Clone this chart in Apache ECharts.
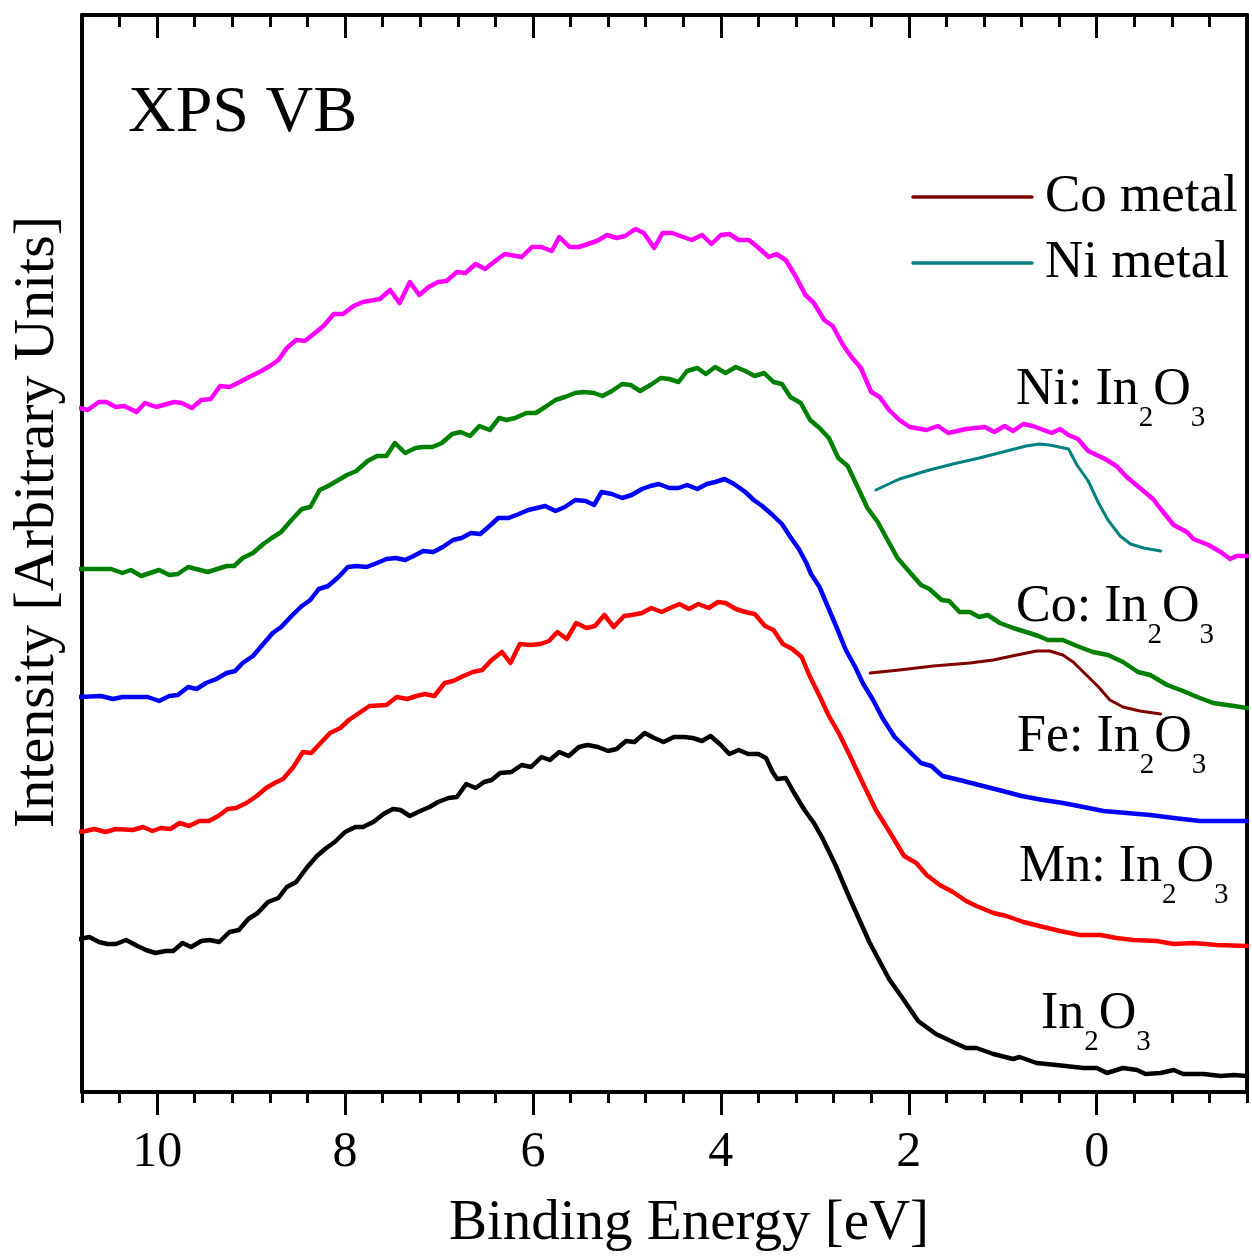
<!DOCTYPE html>
<html>
<head>
<meta charset="utf-8">
<title>XPS VB</title>
<script src="https://cdn.jsdelivr.net/npm/echarts@6/dist/echarts.min.js"></script>
<style>
  html, body { margin: 0; padding: 0; background: #fff; }
  #chart { width: 1252px; height: 1259px; }
</style>
</head>
<body>
<div id="chart"></div>
<script>
// Valence-band XPS spectra, [binding energy (eV), intensity (arb. units, offset)]
const niDoped = [[10.83,684],[10.74,682],[10.62,690],[10.54,690],[10.44,685],[10.35,686],[10.22,680],[10.13,689],[10.01,685],[9.82,690],[9.74,689],[9.63,684],[9.53,692],[9.43,693],[9.33,706],[9.23,705],[9.12,710],[9.02,715],[8.89,721],[8.80,726],[8.71,732],[8.62,744],[8.52,752],[8.43,751],[8.32,759],[8.23,766],[8.12,778],[8.02,778],[7.91,786],[7.81,790],[7.63,793],[7.52,802],[7.42,789],[7.31,810],[7.21,797],[7.11,805],[7.01,810],[6.92,811],[6.81,820],[6.72,819],[6.61,828],[6.51,823],[6.36,834],[6.30,838],[6.12,835],[6.01,845],[5.91,845],[5.80,841],[5.72,855],[5.61,845],[5.51,845],[5.32,851],[5.21,857],[5.11,854],[5.02,856],[4.91,863],[4.82,859],[4.71,844],[4.62,859],[4.52,859],[4.31,852],[4.20,857],[4.10,848],[4.00,857],[3.91,858],[3.81,852],[3.70,852],[3.61,845],[3.49,835],[3.41,838],[3.31,832],[3.20,815],[3.10,797],[3.01,789],[2.90,772],[2.81,766],[2.70,747],[2.61,735],[2.51,724],[2.40,700],[2.31,695],[2.21,682],[2.10,672],[1.99,665],[1.81,662],[1.69,666],[1.58,659],[1.39,663],[1.19,665],[1.09,660],[0.98,666],[0.89,661],[0.78,668],[0.68,666],[0.48,659],[0.39,663],[0.30,657],[0.20,653],[0.09,641],[-0.09,633],[-0.21,626],[-0.32,615],[-0.46,604],[-0.60,593],[-0.69,582],[-0.82,567],[-0.96,560],[-1.03,553],[-1.19,547],[-1.32,540],[-1.42,533],[-1.49,536],[-1.60,536]];

const coDoped = [[10.83,523],[10.69,523],[10.49,523],[10.37,519],[10.28,522],[10.17,516],[9.98,522],[9.87,517],[9.78,518],[9.67,525],[9.46,520],[9.26,526],[9.18,526],[9.09,534],[8.98,539],[8.87,548],[8.78,554],[8.68,560],[8.57,572],[8.46,583],[8.37,585],[8.27,602],[8.18,606],[8.07,612],[7.98,617],[7.88,621],[7.76,631],[7.66,636],[7.56,636],[7.47,649],[7.36,639],[7.25,644],[7.17,645],[7.07,645],[6.97,649],[6.86,658],[6.77,660],[6.67,656],[6.57,666],[6.46,662],[6.36,674],[6.28,672],[6.19,674],[6.07,679],[5.97,679],[5.87,685],[5.76,692],[5.66,695],[5.55,699],[5.46,700],[5.35,699],[5.26,696],[5.16,701],[5.05,708],[4.96,707],[4.86,701],[4.75,707],[4.64,714],[4.55,713],[4.45,710],[4.36,721],[4.25,724],[4.16,718],[4.06,725],[3.95,719],[3.84,725],[3.74,721],[3.64,716],[3.54,719],[3.44,710],[3.35,708],[3.26,695],[3.15,689],[3.05,672],[2.95,664],[2.85,654],[2.75,634],[2.65,626],[2.54,604],[2.44,584],[2.33,570],[2.22,551],[2.12,534],[2.01,522],[1.87,507],[1.78,503],[1.65,492],[1.57,491],[1.46,480],[1.35,480],[1.25,475],[1.16,477],[1.03,469],[0.89,464],[0.75,460],[0.62,456],[0.52,452],[0.36,452],[0.21,446],[0.04,440],[-0.12,437],[-0.28,430],[-0.44,420],[-0.57,417],[-0.75,407],[-0.92,401],[-1.07,395],[-1.24,389],[-1.46,386],[-1.60,384]];

const feDoped = [[10.83,395],[10.60,396],[10.47,393],[10.37,395],[10.10,395],[9.98,391],[9.87,396],[9.78,397],[9.67,405],[9.58,403],[9.48,409],[9.37,413],[9.26,419],[9.17,421],[9.09,429],[8.98,436],[8.88,447],[8.77,459],[8.68,465],[8.57,476],[8.46,486],[8.37,492],[8.28,503],[8.18,506],[8.07,515],[7.97,525],[7.88,526],[7.77,525],[7.66,529],[7.56,533],[7.46,534],[7.36,532],[7.27,536],[7.17,541],[7.06,540],[6.96,545],[6.85,552],[6.76,554],[6.66,559],[6.56,558],[6.45,567],[6.37,574],[6.26,574],[6.15,578],[6.05,582],[5.87,586],[5.76,581],[5.66,585],[5.55,592],[5.44,591],[5.35,587],[5.27,600],[5.16,598],[5.05,594],[4.95,597],[4.84,603],[4.75,606],[4.66,608],[4.55,604],[4.45,604],[4.36,607],[4.25,603],[4.15,608],[4.06,610],[3.96,613],[3.86,608],[3.74,600],[3.65,592],[3.56,586],[3.45,577],[3.35,568],[3.26,555],[3.17,543],[3.09,529],[3.04,518],[2.95,505],[2.86,485],[2.77,465],[2.67,442],[2.57,425],[2.49,409],[2.38,392],[2.28,374],[2.15,355],[2.01,342],[1.87,329],[1.76,326],[1.64,316],[1.46,312],[1.21,306],[1.00,301],[0.80,296],[0.57,292],[0.36,289],[0.14,285],[-0.07,281],[-0.32,279],[-0.57,277],[-0.82,274],[-1.10,271],[-1.35,271],[-1.60,271]];

const mnDoped = [[10.83,260],[10.76,261],[10.67,263],[10.55,260],[10.44,263],[10.26,262],[10.15,265],[10.05,261],[9.96,264],[9.86,263],[9.76,269],[9.66,266],[9.55,271],[9.45,271],[9.35,276],[9.25,283],[9.16,284],[9.05,289],[8.94,296],[8.84,304],[8.75,309],[8.66,313],[8.55,325],[8.45,340],[8.36,339],[8.25,350],[8.16,359],[8.05,364],[7.96,372],[7.85,379],[7.74,386],[7.56,387],[7.45,395],[7.34,393],[7.24,396],[7.15,398],[7.05,396],[6.94,409],[6.85,411],[6.74,416],[6.64,420],[6.54,422],[6.44,432],[6.33,440],[6.24,429],[6.14,448],[6.03,447],[5.92,448],[5.83,451],[5.74,460],[5.64,453],[5.54,469],[5.43,464],[5.34,466],[5.24,477],[5.14,465],[5.03,476],[4.95,477],[4.84,479],[4.74,484],[4.63,480],[4.54,484],[4.44,488],[4.34,483],[4.24,488],[4.13,484],[4.03,490],[3.95,489],[3.84,483],[3.74,480],[3.64,478],[3.53,466],[3.44,462],[3.34,448],[3.24,443],[3.14,435],[3.06,417],[2.95,396],[2.85,376],[2.74,358],[2.63,337],[2.49,309],[2.35,282],[2.21,261],[2.05,236],[1.92,229],[1.81,217],[1.67,207],[1.53,200],[1.39,191],[1.28,186],[1.10,179],[0.96,176],[0.78,170],[0.61,166],[0.39,161],[0.18,157],[-0.04,157],[-0.21,154],[-0.39,152],[-0.64,151],[-0.82,148],[-1.03,149],[-1.28,147],[-1.60,146]];

const undoped = [[10.83,153],[10.72,155],[10.62,150],[10.53,148],[10.44,148],[10.33,152],[10.21,146],[10.12,142],[10.02,139],[9.91,141],[9.83,141],[9.73,149],[9.64,145],[9.53,151],[9.44,152],[9.34,150],[9.23,160],[9.13,162],[9.03,173],[8.93,179],[8.82,190],[8.71,194],[8.62,205],[8.52,210],[8.41,224],[8.30,236],[8.20,244],[8.11,250],[8.00,260],[7.89,265],[7.81,265],[7.70,270],[7.59,278],[7.49,283],[7.41,282],[7.31,276],[7.20,281],[7.10,285],[7.01,290],[6.90,294],[6.81,295],[6.71,308],[6.61,304],[6.52,310],[6.44,312],[6.35,319],[6.23,320],[6.12,327],[6.02,325],[5.91,335],[5.82,332],[5.72,340],[5.62,336],[5.51,345],[5.42,347],[5.31,345],[5.20,341],[5.11,343],[5.01,351],[4.92,350],[4.81,359],[4.71,354],[4.61,350],[4.50,355],[4.39,355],[4.30,354],[4.20,351],[4.11,356],[4.00,347],[3.91,338],[3.81,342],[3.71,338],[3.60,338],[3.52,334],[3.45,320],[3.40,313],[3.31,314],[3.22,299],[3.11,282],[3.01,269],[2.92,254],[2.78,227],[2.63,194],[2.42,150],[2.21,113],[2.06,93],[1.90,71],[1.71,58],[1.53,50],[1.39,44],[1.28,44],[1.10,38],[0.89,33],[0.82,35],[0.64,29],[0.43,27],[0.14,24],[0.00,24],[-0.11,19],[-0.28,24],[-0.43,22],[-0.52,18],[-0.68,19],[-0.82,22],[-0.92,18],[-1.14,18],[-1.32,16],[-1.46,17],[-1.60,16]];

const niMetal = [[2.35,602],[2.10,613],[1.78,622],[1.53,628],[1.25,634],[1.00,640],[0.75,646],[0.61,648],[0.50,647],[0.30,643],[0.21,627],[0.09,611],[-0.02,589],[-0.12,572],[-0.25,556],[-0.36,548],[-0.50,544],[-0.68,541]];

const coMetal = [[2.41,419],[2.10,422],[1.74,426],[1.35,429],[1.10,432],[0.85,437],[0.64,441],[0.50,441],[0.36,437],[0.25,430],[0.11,417],[-0.02,405],[-0.14,392],[-0.28,385],[-0.46,381],[-0.68,378]];

// Axis ticks
const majorTicks = [10, 8, 6, 4, 2, 0];
const minorTicks = [10.8, 10.4, 9.6, 9.2, 8.8, 8.4, 7.6, 7.2, 6.8, 6.4, 5.6, 5.2, 4.8, 4.4, 3.6, 3.2, 2.8, 2.4, 1.6, 1.2, 0.8, 0.4, -0.4, -0.8, -1.2, -1.6];
const energyRange = [-1.6, 10.8];
const intensityRange = [0, 1077];

// Curve labels: [element prefix, left x, baseline y]
const sampleLabels = [
  ['Ni: ', 1016, 408],
  ['Co: ', 1016, 625],
  ['Fe: ', 1017, 755],
  ['Mn: ', 1019, 885],
  ['', 1041, 1032]
];

// Legend entries: [name, colour, centre y]
const legendItems = [
  ['Co metal', '#800000', 197],
  ['Ni metal', '#008080', 263]
];

const SERIF = '"Liberation Serif", "Times New Roman", serif';
const MAIN_SIZE = 52;
const SUB_SIZE = 29;
const SUB_DROP = 20;
// distance from the alphabetic baseline up to the em-box middle, in em
const MID_OFFSET = 0.3375;

const measureCtx = document.createElement('canvas').getContext('2d');
function textWidth(str, size) {
  measureCtx.font = size + 'px ' + SERIF;
  return measureCtx.measureText(str).width;
}

// "X: In2O3" with real subscripts, built from baseline-aligned pieces
function formulaLabel(prefix, x, baseline) {
  const pieces = [
    [prefix + 'In', MAIN_SIZE, 0],
    ['2', SUB_SIZE, SUB_DROP],
    ['O', MAIN_SIZE, 0],
    ['3', SUB_SIZE, SUB_DROP]
  ];
  const out = [];
  let cx = x;
  pieces.forEach(function (p) {
    out.push({
      type: 'text', x: cx, y: baseline + p[2] - MID_OFFSET * p[1], silent: true,
      style: { text: p[0], fontFamily: SERIF, fontSize: p[1], fill: '#000',
               align: 'left', verticalAlign: 'middle' }
    });
    cx += textWidth(p[0], p[1]);
  });
  return out;
}

const chart = echarts.init(document.getElementById('chart'), null, { renderer: 'canvas' });

function energyAxis(position, ticks, len, inside, showLine, showLabels) {
  return {
    type: 'value',
    position: position,
    inverse: true,
    min: energyRange[0],
    max: energyRange[1],
    gridIndex: 0,
    axisLine: { show: showLine, onZero: false, lineStyle: { color: '#000', width: 4 } },
    axisTick: { show: true, inside: inside, length: len, customValues: ticks,
                lineStyle: { color: '#000', width: 3 } },
    axisLabel: showLabels
      ? { show: true, customValues: ticks, margin: 36, color: '#000',
          fontFamily: SERIF, fontSize: 50 }
      : { show: false },
    splitLine: { show: false },
    minorTick: { show: false }
  };
}

function curve(name, data, color, width, z) {
  return {
    name: name,
    type: 'line',
    xAxisIndex: 0,
    yAxisIndex: 0,
    data: data,
    showSymbol: false,
    symbol: 'none',
    smooth: false,
    z: z,
    silent: true,
    animation: false,
    lineStyle: { color: color, width: width, join: 'round', cap: 'round' },
    itemStyle: { color: color }
  };
}

let graphics = [
  {
    type: 'text', x: 128, y: 114, silent: true,
    style: { text: 'XPS VB', fontFamily: SERIF, fontSize: 66, fill: '#000',
             align: 'left', verticalAlign: 'middle' }
  },
  {
    type: 'text', x: 689, y: 1224, silent: true,
    style: { text: 'Binding Energy [eV]', fontFamily: SERIF, fontSize: 57, fill: '#000',
             align: 'center', verticalAlign: 'middle' }
  },
  {
    type: 'text', x: 38, y: 522, rotation: Math.PI / 2, silent: true,
    style: { text: 'Intensity [Arbitrary Units]', fontFamily: SERIF, fontSize: 58, fill: '#000',
             align: 'center', verticalAlign: 'middle' }
  }
];

legendItems.forEach(function (item) {
  graphics.push({
    type: 'line', silent: true,
    shape: { x1: 913, y1: item[2], x2: 1032, y2: item[2] },
    style: { stroke: item[1], lineWidth: 3.5, lineCap: 'round' }
  });
  graphics.push({
    type: 'text', x: 1045, y: item[2], silent: true,
    style: { text: item[0], fontFamily: SERIF, fontSize: 53, fill: '#000',
             align: 'left', verticalAlign: 'middle' }
  });
});

sampleLabels.forEach(function (l) {
  graphics = graphics.concat(formulaLabel(l[0], l[1], l[2]));
});

const option = {
  backgroundColor: '#fff',
  animation: false,
  grid: { left: 82, right: 5, top: 15, bottom: 167, containLabel: false },
  xAxis: [
    energyAxis('bottom', majorTicks, 23, false, true, true),
    energyAxis('bottom', minorTicks, 11, false, false, false),
    energyAxis('top', majorTicks, 23, true, true, false),
    energyAxis('top', minorTicks, 12, true, false, false)
  ],
  yAxis: [
    {
      type: 'value', position: 'left', min: intensityRange[0], max: intensityRange[1],
      axisLine: { show: true, onZero: false, lineStyle: { color: '#000', width: 4 } },
      axisTick: { show: false }, axisLabel: { show: false }, splitLine: { show: false }
    },
    {
      type: 'value', position: 'right', min: intensityRange[0], max: intensityRange[1],
      axisLine: { show: true, onZero: false, lineStyle: { color: '#000', width: 4 } },
      axisTick: { show: false }, axisLabel: { show: false }, splitLine: { show: false }
    }
  ],
  series: [
    curve('In2O3', undoped, '#000000', 4.5, 2),
    curve('Mn: In2O3', mnDoped, '#ff0000', 4.5, 2),
    curve('Fe: In2O3', feDoped, '#0000ff', 4.5, 2),
    curve('Co: In2O3', coDoped, '#008000', 4.5, 2),
    curve('Ni: In2O3', niDoped, '#ff00ff', 4.5, 2),
    curve('Co metal', coMetal, '#800000', 3, 3),
    curve('Ni metal', niMetal, '#008080', 3, 3)
  ],
  graphic: graphics
};

chart.setOption(option);
</script>
</body>
</html>
